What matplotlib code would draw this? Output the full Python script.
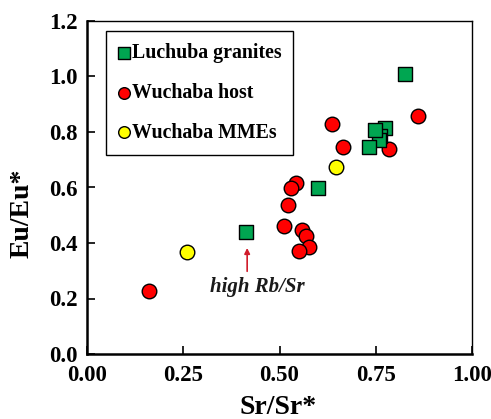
import matplotlib.pyplot as plt

# Luchuba granites
granite_x = [0.826, 0.774, 0.761, 0.759, 0.748, 0.733, 0.600, 0.414]
granite_y = [1.009, 0.813, 0.786, 0.771, 0.807, 0.745, 0.597, 0.438]

# Wuchaba host
host_x = [0.162, 0.860, 0.636, 0.664, 0.785, 0.543, 0.529, 0.522, 0.512, 0.559, 0.568, 0.577, 0.551]
host_y = [0.228, 0.859, 0.829, 0.746, 0.738, 0.617, 0.597, 0.537, 0.463, 0.447, 0.426, 0.387, 0.372]

# Wuchaba MMEs
mme_x = [0.261, 0.648]
mme_y = [0.366, 0.674]

x_ticks = [0.00, 0.25, 0.50, 0.75, 1.00]
y_ticks = [0.0, 0.2, 0.4, 0.6, 0.8, 1.0, 1.2]

plt.rcParams['font.family'] = ['Liberation Serif', 'DejaVu Serif']
plt.rcParams['font.weight'] = 'bold'

fig = plt.figure(figsize=(4.91, 4.19), dpi=100)
ax = fig.add_axes([87 / 491, 65 / 419, 385 / 491, 333 / 419])

ax.scatter(host_x, host_y, s=110, marker='o', color='#ff0000', edgecolors='black',
           linewidths=1.0, zorder=3, label='Wuchaba host')
ax.scatter(mme_x, mme_y, s=110, marker='o', color='#ffff00', edgecolors='black',
           linewidths=1.0, zorder=3, label='Wuchaba MMEs')
ax.scatter(granite_x, granite_y, s=110, marker='s', color='#00a651', edgecolors='black',
           linewidths=1.0, zorder=4, label='Luchuba granites')

# arrow + note
ax.annotate('', xy=(0.416, 0.392), xytext=(0.416, 0.288),
            arrowprops=dict(arrowstyle='-|>', color='#d01c2b', lw=1.2, mutation_scale=8))
ax.text(0.443, 0.240, 'high Rb/Sr', ha='center', va='center', fontsize=15,
        fontstyle='italic', fontweight='bold', color='#1a1a1a')

ax.set_xlim(0, 1.0)
ax.set_ylim(0, 1.2)
ax.set_xticks(x_ticks)
ax.set_yticks(y_ticks)
ax.set_xticklabels([f'{v:.2f}' for v in x_ticks])
ax.set_yticklabels([f'{v:.1f}' for v in y_ticks])
ax.tick_params(axis='x', direction='in', length=6, width=1.2, labelsize=16.5, pad=8)
ax.tick_params(axis='y', direction='in', length=6, width=1.2, labelsize=16.5, pad=7)
for lbl in ax.get_xticklabels() + ax.get_yticklabels():
    lbl.set_fontweight('bold')

ax.spines['left'].set_linewidth(1.8)
ax.spines['bottom'].set_linewidth(1.8)
ax.spines['top'].set_linewidth(1.0)
ax.spines['right'].set_linewidth(1.0)

ax.set_xlabel('Sr/Sr*', fontsize=20, fontweight='bold', va='center')
ax.set_ylabel('Eu/Eu*', fontsize=20, fontweight='bold', va='center')
ax.xaxis.set_label_coords(0.497, -0.16)
ax.yaxis.set_label_coords(-0.169, 0.423)

handles, labels = ax.get_legend_handles_labels()
order = [2, 0, 1]
leg = ax.legend([handles[i] for i in order], [labels[i] for i in order],
                loc='upper left', bbox_to_anchor=(0.0486, 0.970), borderaxespad=0,
                fontsize=14.3, markerscale=0.8, handlelength=0.6, handletextpad=0.1,
                labelspacing=1.0, borderpad=0.6, fancybox=False, framealpha=1,
                edgecolor='black')
leg.get_frame().set_linewidth(1.0)
for t in leg.get_texts():
    t.set_fontweight('bold')

fig.savefig('out.png', dpi=100)
